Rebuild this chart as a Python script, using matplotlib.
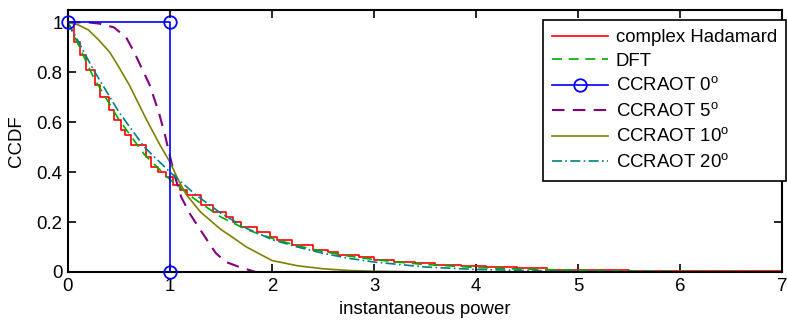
import matplotlib
matplotlib.use('Agg')
import matplotlib.pyplot as plt

plt.rcParams['font.family'] = ['Liberation Sans', 'DejaVu Sans']
plt.rcParams['mathtext.fontset'] = 'custom'
plt.rcParams['mathtext.rm'] = 'Liberation Sans'

# ---- data ----
# complex Hadamard: staircase
had_x = [0, 0.06, 0.12, 0.18, 0.26, 0.31, 0.40, 0.45, 0.52, 0.56, 0.62, 0.76, 0.81,
         0.88, 0.96, 1.03, 1.10, 1.17, 1.30, 1.42, 1.55, 1.62, 1.70, 1.85, 1.98, 2.05,
         2.20, 2.40, 2.55, 2.65, 2.85, 3.00, 3.20, 3.40, 3.60, 3.85, 4.10, 4.40, 4.70,
         5.10, 5.50, 6.00, 7.0]
had_y = [1.0, 0.92, 0.87, 0.81, 0.75, 0.70, 0.65, 0.61, 0.57, 0.55, 0.51, 0.46, 0.42,
         0.40, 0.38, 0.35, 0.33, 0.31, 0.27, 0.24, 0.22, 0.20, 0.18, 0.16, 0.14, 0.13,
         0.11, 0.09, 0.08, 0.07, 0.06, 0.05, 0.04, 0.035, 0.03, 0.025, 0.02, 0.015, 0.01,
         0.008, 0.005, 0.003, 0.003]

dft_x = [0, 0.25, 0.5, 0.75, 1.0, 1.25, 1.5, 1.75, 2.0, 2.25, 2.5, 2.75, 3.0, 3.25,
         3.5, 3.75, 4.0, 4.5, 5.0, 5.5, 6.0, 7.0]
dft_y = [1.0, 0.78, 0.61, 0.47, 0.37, 0.29, 0.22, 0.17, 0.135, 0.105, 0.082, 0.064,
         0.05, 0.039, 0.03, 0.024, 0.018, 0.011, 0.007, 0.004, 0.002, 0.001]

c0_x = [0, 1, 1]
c0_y = [1, 1, 0]

c5_x = [0, 0.20, 0.31, 0.45, 0.57, 0.65, 0.73, 0.80, 0.89, 0.95, 0.99, 1.05, 1.11,
        1.20, 1.28, 1.36, 1.45, 1.55, 1.68, 1.84, 2.1, 7.0]
c5_y = [1.0, 1.0, 0.995, 0.98, 0.94, 0.88, 0.81, 0.75, 0.64, 0.55, 0.48, 0.38, 0.30,
        0.23, 0.18, 0.13, 0.075, 0.04, 0.02, 0.0, 0.0, 0.0]

c10_x = [0, 0.1, 0.2, 0.3, 0.41, 0.5, 0.6, 0.77, 0.9, 1.0, 1.08, 1.16, 1.3, 1.5, 1.61,
         1.75, 2.0, 2.25, 2.5, 2.75, 3.0, 3.5, 7.0]
c10_y = [1.0, 0.99, 0.97, 0.93, 0.88, 0.82, 0.75, 0.61, 0.51, 0.44, 0.37, 0.31, 0.24,
         0.17, 0.14, 0.10, 0.046, 0.025, 0.013, 0.006, 0.003, 0.0, 0.0]

c20_x = [0, 0.25, 0.5, 0.75, 1.0, 1.25, 1.5, 1.75, 2.0, 2.25, 2.5, 2.75, 3.0, 3.5,
         4.0, 4.5, 5.0, 6.0, 7.0]
c20_y = [1.0, 0.81, 0.64, 0.50, 0.40, 0.31, 0.235, 0.175, 0.13, 0.10, 0.075, 0.055,
         0.04, 0.02, 0.01, 0.006, 0.003, 0.001, 0.0]

FS = 13.4
fig = plt.figure(figsize=(7.87, 3.2), dpi=100)
ax = fig.add_axes([0.0864, 0.15, 0.9073, 0.819])

lw = 1.2
ax.plot(had_x, had_y, color='#ff0000', lw=lw, drawstyle='steps-post',
        label='complex Hadamard')
ax.plot(dft_x, dft_y, color='#00aa00', lw=lw, dashes=(6, 4), label='DFT')
ax.plot(c0_x, c0_y, color='#0000ff', lw=lw, marker='o', markersize=9,
        markerfacecolor='none', markeredgecolor='#0000ff', markeredgewidth=1.3,
        clip_on=False, zorder=5, label=r'CCRAOT 0$^\mathrm{o}$')
ax.plot(c5_x, c5_y, color='#800080', lw=1.5, dashes=(6, 4),
        label=r'CCRAOT 5$^\mathrm{o}$')
ax.plot(c10_x, c10_y, color='#808000', lw=lw, label=r'CCRAOT 10$^\mathrm{o}$')
ax.plot(c20_x, c20_y, color='#008080', lw=lw, dashes=(6, 2, 1, 2),
        label=r'CCRAOT 20$^\mathrm{o}$')

ax.set_xlim(0, 7)
ax.set_ylim(0, 1.05)
ax.set_xticks(range(8))
ax.set_yticks([0, 0.2, 0.4, 0.6, 0.8, 1.0])
ax.set_yticklabels(['0', '0.2', '0.4', '0.6', '0.8', '1'])
ax.tick_params(direction='in', length=6, width=1.2, top=True, right=True,
               labelsize=FS, pad=4)
for s in ax.spines.values():
    s.set_linewidth(1.5)

ax.set_xlabel('instantaneous power', fontsize=FS, labelpad=5)
ax.set_ylabel('CCDF', fontsize=FS, labelpad=8)

leg = ax.legend(loc='upper right', bbox_to_anchor=(1.006, 0.962), borderaxespad=0,
                fontsize=FS, fancybox=False, framealpha=1, edgecolor='black',
                handlelength=3.0, labelspacing=0.36, borderpad=0.5,
                handletextpad=0.4)
leg.get_frame().set_linewidth(1.2)

fig.savefig('out.png', dpi=100, facecolor='white')
